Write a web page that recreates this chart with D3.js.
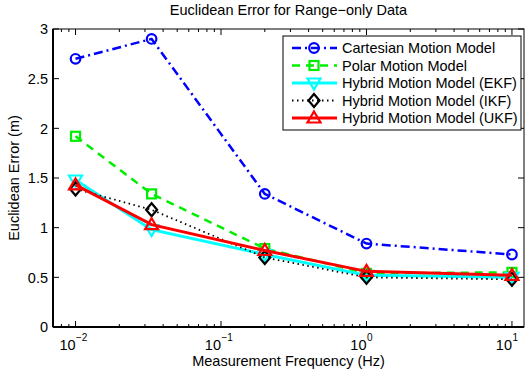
<!DOCTYPE html>
<html>
<head>
<meta charset="utf-8">
<script src="https://cdn.jsdelivr.net/npm/d3@7"></script>
<style>
  body { margin: 0; background: #fff; }
  text { font-family: "Liberation Sans", Arial, sans-serif; fill: #000; }
</style>
</head>
<body>
<svg id="chart" width="525" height="377"></svg>
<script>
const frequencies = [0.01, 1 / 30, 0.2, 1, 10];
const cartesian = [2.70, 2.90, 1.34, 0.84, 0.73];
const polar = [1.92, 1.34, 0.79, 0.54, 0.55];
const hybridEKF = [1.48, 0.98, 0.73, 0.52, 0.50];
const hybridIKF = [1.39, 1.18, 0.70, 0.50, 0.48];
const hybridUKF = [1.43, 1.03, 0.77, 0.56, 0.52];
const seriesNames = ["Cartesian Motion Model", "Polar Motion Model", "Hybrid Motion Model (EKF)",
    "Hybrid Motion Model (IKF)", "Hybrid Motion Model (UKF)"];
const yTicks = [0, 0.5, 1, 1.5, 2, 2.5, 3];
const xMajorTicks = [0.01, 0.1, 1, 10];

const svg = d3.select("#chart"),
    margin = { top: 29, right: 1, bottom: 50, left: 53 },
    width = +svg.attr("width") - margin.left - margin.right,
    height = +svg.attr("height") - margin.top - margin.bottom,
    chart = svg.append("g").attr("transform", `translate(${margin.left},${margin.top})`);

const x = d3.scaleLog().domain([0.007, 12.1]).range([0, width]);
const y = d3.scaleLinear().domain([0, 3]).range([height, 0]);
const fontSize = "14.5px";

const styles = [
    { data: cartesian, color: "#0000ff", dash: "9,4,2,4", width: 2.5, marker: "circle" },
    { data: polar, color: "#00ee00", dash: "8,6", width: 2.5, marker: "square" },
    { data: hybridEKF, color: "#00ffff", dash: null, width: 3, marker: "tridown" },
    { data: hybridIKF, color: "#000000", dash: "1.5,3.5", width: 1.8, marker: "diamond" },
    { data: hybridUKF, color: "#ff0000", dash: null, width: 3, marker: "triup" }
];

// minor ticks on the log axis
const minorTicks = [];
for (let dec = -3; dec <= 0; dec++) {
    for (let m = 2; m <= 9; m++) {
        const v = m * Math.pow(10, dec);
        if (v > 0.007 && v < 10) minorTicks.push(v);
    }
}

// axes frame
const ticks = chart.append("g").attr("stroke", "#000").attr("stroke-width", 1);
minorTicks.forEach(v => {
    ticks.append("line").attr("x1", x(v)).attr("x2", x(v)).attr("y1", height).attr("y2", height - 3);
    ticks.append("line").attr("x1", x(v)).attr("x2", x(v)).attr("y1", 0).attr("y2", 3);
});
xMajorTicks.forEach(v => {
    ticks.append("line").attr("x1", x(v)).attr("x2", x(v)).attr("y1", height).attr("y2", height - 6);
    ticks.append("line").attr("x1", x(v)).attr("x2", x(v)).attr("y1", 0).attr("y2", 6);
});
yTicks.forEach(v => {
    ticks.append("line").attr("x1", 0).attr("x2", 6).attr("y1", y(v)).attr("y2", y(v));
    ticks.append("line").attr("x1", width).attr("x2", width - 6).attr("y1", y(v)).attr("y2", y(v));
});

chart.append("rect")
    .attr("width", width).attr("height", height)
    .attr("fill", "none").attr("stroke", "#000").attr("stroke-width", 1);
chart.append("line").attr("x1", 0).attr("x2", width).attr("y1", height).attr("y2", height)
    .attr("stroke", "#000").attr("stroke-width", 2);
chart.append("line").attr("x1", 0).attr("x2", 0).attr("y1", 0).attr("y2", height)
    .attr("stroke", "#000").attr("stroke-width", 2);

// tick labels
yTicks.forEach(v => {
    chart.append("text")
        .attr("x", -5).attr("y", y(v)).attr("dy", "0.36em")
        .attr("text-anchor", "end")
        .style("font-size", fontSize)
        .text(v);
});
xMajorTicks.forEach(v => {
    const e = Math.round(Math.log10(v));
    chart.append("text")
        .attr("x", x(v)).attr("y", height + 23)
        .attr("text-anchor", "end")
        .style("font-size", fontSize)
        .text("10");
    chart.append("text")
        .attr("x", x(v) + 0.5).attr("y", height + 14)
        .style("font-size", "10px")
        .text(e < 0 ? "\u2212" + (-e) : e);
});

// labels
svg.append("text")
    .attr("x", margin.left + width / 2).attr("y", 15)
    .attr("text-anchor", "middle")
    .style("font-size", fontSize)
    .text("Euclidean Error for Range\u2212only Data");
svg.append("text")
    .attr("x", margin.left + width / 2).attr("y", 366)
    .attr("text-anchor", "middle")
    .style("font-size", fontSize)
    .text("Measurement Frequency (Hz)");
svg.append("text")
    .attr("transform", `translate(19,${margin.top + height / 2}) rotate(-90)`)
    .attr("text-anchor", "middle")
    .style("font-size", fontSize)
    .text("Euclidean Error (m)");

function drawMarker(g, type, cx, cy, color) {
    let m;
    if (type === "circle") {
        m = g.append("circle").attr("cx", cx).attr("cy", cy).attr("r", 4.8);
    } else if (type === "square") {
        m = g.append("rect").attr("x", cx - 4.5).attr("y", cy - 4.5).attr("width", 9).attr("height", 9);
    } else if (type === "diamond") {
        m = g.append("path").attr("d", `M${cx},${cy - 6.5}L${cx + 5.5},${cy}L${cx},${cy + 6.5}L${cx - 5.5},${cy}Z`);
    } else if (type === "triup") {
        m = g.append("path").attr("d", `M${cx},${cy - 6.5}L${cx + 6.5},${cy + 4.5}L${cx - 6.5},${cy + 4.5}Z`);
    } else {
        m = g.append("path").attr("d", `M${cx},${cy + 6.5}L${cx + 6.5},${cy - 4.5}L${cx - 6.5},${cy - 4.5}Z`);
    }
    m.attr("fill", "none").attr("stroke", color).attr("stroke-width", 2.2);
}

const line = d3.line().x(d => x(d[0])).y(d => y(d[1]));

styles.forEach(s => {
    const pts = frequencies.map((f, i) => [f, s.data[i]]);
    const g = chart.append("g");
    g.append("path")
        .attr("d", line(pts))
        .attr("fill", "none")
        .attr("stroke", s.color)
        .attr("stroke-width", s.width)
        .attr("stroke-dasharray", s.dash);
    pts.forEach(p => drawMarker(g, s.marker, x(p[0]), y(p[1]), s.color));
});

// legend
const legend = svg.append("g").attr("transform", "translate(283,36)");
legend.append("rect")
    .attr("width", 238).attr("height", 94)
    .attr("fill", "#fff").attr("stroke", "#000").attr("stroke-width", 1);
styles.forEach((s, i) => {
    const ly = 12 + i * 17.5;
    legend.append("line")
        .attr("x1", 9).attr("x2", 54).attr("y1", ly).attr("y2", ly)
        .attr("stroke", s.color)
        .attr("stroke-width", s.width)
        .attr("stroke-dasharray", s.dash);
    drawMarker(legend, s.marker, 31, ly, s.color);
    legend.append("text")
        .attr("x", 59).attr("y", ly).attr("dy", "0.36em")
        .style("font-size", fontSize)
        .text(seriesNames[i]);
});
</script>
</body>
</html>
